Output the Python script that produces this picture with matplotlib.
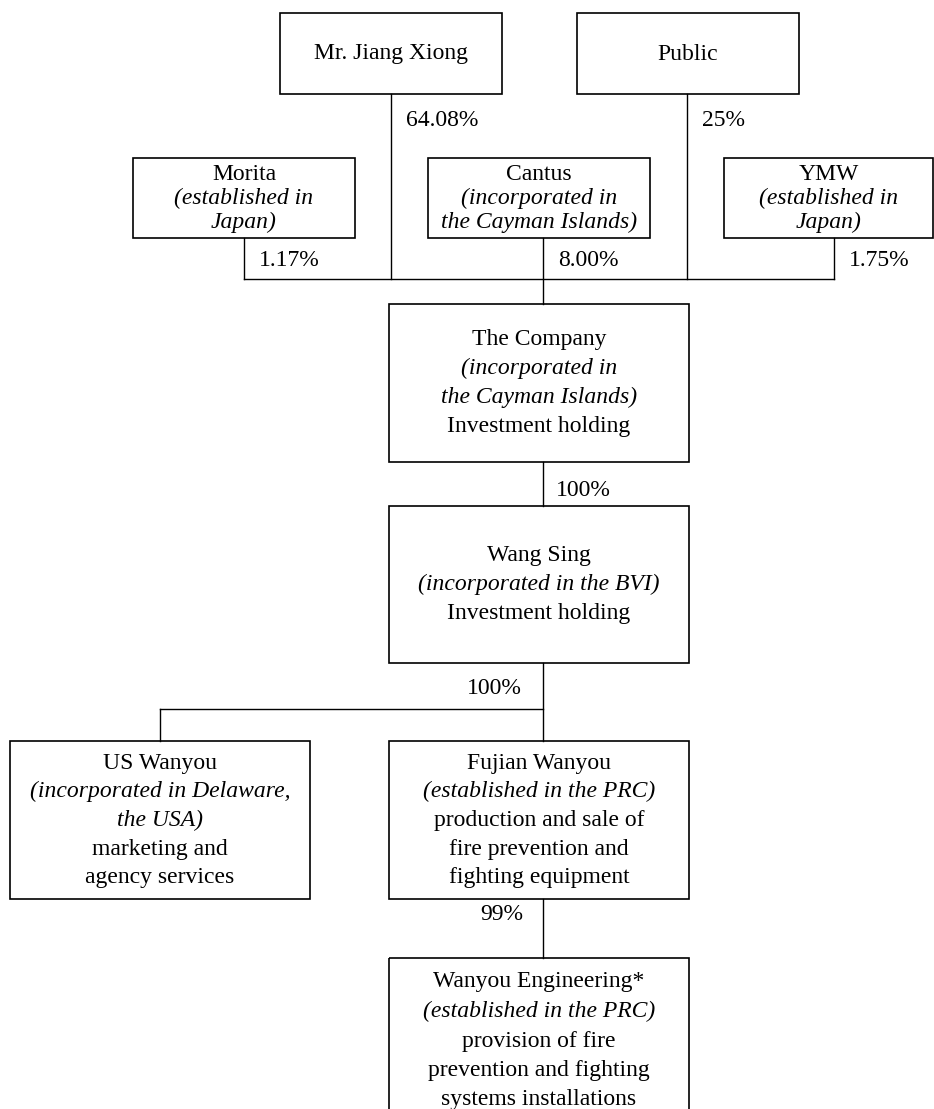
#!/usr/bin/env python3

import matplotlib
matplotlib.use('Agg')
import matplotlib.pyplot as plt
from matplotlib.patches import Rectangle

W, H = 934, 1109
FONT = 'Liberation Serif'
FS = 17

# entities: name, place of incorporation, business
names = ['Mr. Jiang Xiong', 'Public', 'Morita', 'Cantus', 'YMW',
         'The Company', 'Wang Sing', 'US Wanyou', 'Fujian Wanyou',
         'Wanyou Engineering*']
places = [[], [],
          ['(established in', 'Japan)'],
          ['(incorporated in', 'the Cayman Islands)'],
          ['(established in', 'Japan)'],
          ['(incorporated in', 'the Cayman Islands)'],
          ['(incorporated in the BVI)'],
          ['(incorporated in Delaware,', 'the USA)'],
          ['(established in the PRC)'],
          ['(established in the PRC)']]
business = [[], [], [], [], [],
            ['Investment holding'],
            ['Investment holding'],
            ['marketing and', 'agency services'],
            ['production and sale of', 'fire prevention and',
             'fighting equipment'],
            ['provision of fire', 'prevention and fighting',
             'systems installations']]

# shareholdings into the Company
holders = ['Mr. Jiang Xiong', 'Public', 'Morita', 'Cantus', 'YMW']
holder_pct = ['64.08%', '25%', '1.17%', '8.00%', '1.75%']
# group holdings: (parent, child, share)
subs = [('The Company', 'Wang Sing', '100%'),
        ('Wang Sing', 'Fujian Wanyou', '100%'),
        ('Wang Sing', 'US Wanyou', '100%'),
        ('Fujian Wanyou', 'Wanyou Engineering*', '99%')]

# layout in pixels: x0, y0, x1, y1, line spacing, first text line y
layout = {
    'Mr. Jiang Xiong': (280, 13, 502, 94, 29, 54),
    'Public': (577, 13, 799, 94, 29, 54),
    'Morita': (133, 158, 355, 238, 24, 174),
    'Cantus': (428, 158, 650, 238, 24, 174),
    'YMW': (724, 158, 933, 238, 24, 174),
    'The Company': (389, 304, 689, 462, 29.3, 339),
    'Wang Sing': (389, 506, 689, 663, 29, 555),
    'US Wanyou': (10, 741, 310, 899, 28.7, 763),
    'Fujian Wanyou': (389, 741, 689, 899, 28.7, 763),
    'Wanyou Engineering*': (389, 958, 689, 1140, 29.5, 982),
}
# x of the stake line under each holder box, and label y
holder_x = {'Mr. Jiang Xiong': 391, 'Public': 687, 'Morita': 244,
            'Cantus': 543, 'YMW': 834}
label_y = {'Mr. Jiang Xiong': 120, 'Public': 120, 'Morita': 260,
           'Cantus': 260, 'YMW': 260}
bar_y = 279
fork_y = 709
cx_main = 543

fig = plt.figure(figsize=(W / 100, H / 100), dpi=100)
ax = fig.add_axes([0, 0, 1, 1])
ax.set_xlim(0, W)
ax.set_ylim(H, 0)
ax.axis('off')

lw = 1.0


def line(xs, ys):
    ax.plot(xs, ys, color='black', lw=lw)


def label(x, y, s, ha='left'):
    ax.text(x, y, s, ha=ha, va='center', family=FONT, fontsize=FS)


# boxes
for i, name in enumerate(names):
    x0, y0, x1, y1, ls, ty = layout[name]
    ax.add_patch(Rectangle((x0, y0), x1 - x0, y1 - y0, fill=False,
                           edgecolor='black', lw=1.2, clip_on=False))
    cx = (x0 + x1) / 2
    rows = [(name, 'normal')] + [(t, 'italic') for t in places[i]] + \
           [(t, 'normal') for t in business[i]]
    for k, (txt, st) in enumerate(rows):
        ax.text(cx, ty + k * ls, txt, ha='center', va='center',
                family=FONT, style=st, fontsize=FS)

# lines from holders down to the bar above the Company
comp = layout['The Company']
for h, pct in zip(holders, holder_pct):
    x = holder_x[h]
    y_end = comp[1] if h == 'Cantus' else bar_y
    line([x, x], [layout[h][3], y_end])
    label(x + 15, label_y[h], pct)
line([min(holder_x.values()), max(holder_x.values())], [bar_y, bar_y])

# subsidiaries
for parent, child, pct in subs:
    p = layout[parent]
    c = layout[child]
    if c[2] < p[0]:
        # child sits to the left: branch off the main line
        ccx = (c[0] + c[2]) / 2
        line([ccx, cx_main], [fork_y, fork_y])
        line([ccx, ccx], [fork_y, c[1]])
        continue
    line([cx_main, cx_main], [p[3], c[1]])
    if parent == 'The Company':
        label(cx_main + 13, 490, pct)
    elif parent == 'Wang Sing':
        label(cx_main - 21, 689, pct, ha='right')
    else:
        label(cx_main - 20, 915, pct, ha='right')

plt.savefig('out.png', dpi=100)
